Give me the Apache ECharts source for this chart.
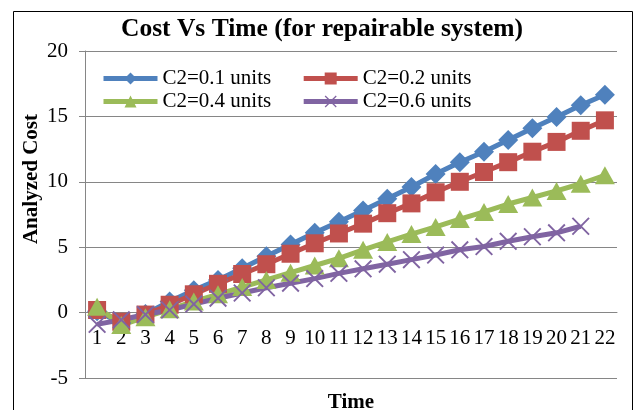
<!DOCTYPE html>
<html>
<head>
<meta charset="utf-8">
<script src="https://cdn.jsdelivr.net/npm/echarts@6/dist/echarts.min.js"></script>
<style>
html,body{margin:0;padding:0;background:#fff;}
#chart{width:634px;height:410px;}
</style>
</head>
<body>
<div id="chart"></div>
<script>
const categories = ['1','2','3','4','5','6','7','8','9','10','11','12','13','14','15','16','17','18','19','20','21','22'];
const seriesNames = ['C2=0.1 units','C2=0.2 units','C2=0.4 units','C2=0.6 units'];
const c2_01 = [0.1,-0.8,-0.1,0.85,1.7,2.5,3.4,4.3,5.2,6.1,6.95,7.8,8.7,9.6,10.6,11.5,12.3,13.2,14.1,14.95,15.85,16.65];
const c2_02 = [0.2,-0.7,-0.15,0.6,1.4,2.2,2.95,3.7,4.5,5.3,6.05,6.8,7.6,8.35,9.2,10.0,10.75,11.5,12.3,13.05,13.9,14.7];
const c2_04 = [0.45,-0.95,-0.35,0.25,0.85,1.4,1.95,2.5,3.05,3.6,4.15,4.8,5.4,6.0,6.55,7.15,7.7,8.3,8.8,9.3,9.85,10.5];
const c2_06 = [-0.9,-0.55,-0.15,0.2,0.65,1.1,1.5,1.9,2.25,2.6,3.0,3.35,3.7,4.05,4.4,4.8,5.05,5.45,5.8,6.1,6.6,null];
const yTicks = {min:-5, max:20, interval:5};

const FONT = 'Liberation Serif';
const colors = ['#4F81BD','#C0504D','#9BBB59','#8064A2'];
const crossPath = 'path://M0,1.5 L1.5,0 L10,8.5 L18.5,0 L20,1.5 L11.5,10 L20,18.5 L18.5,20 L10,11.5 L1.5,20 L0,18.5 L8.5,10 Z';

const GRID_TOP = 51, GRID_BOTTOM = 32, H = 410;
const plotH = H - GRID_TOP - GRID_BOTTOM;
// distance from plot bottom (value min) up to value 0, in pixels
const zeroOffset = plotH * (0 - yTicks.min) / (yTicks.max - yTicks.min);

const chart = echarts.init(document.getElementById('chart'), null, {renderer:'canvas'});
function mk(name, data, color, symbol, size){
  return {
    name: name, type:'line', data: data,
    symbol: symbol, symbolSize: size, showAllSymbol: true,
    lineStyle:{width:5, color:color},
    itemStyle:{color:color},
    emphasis:{disabled:true},
    animation:false
  };
}
const legendCommon = {
  itemWidth:54, itemHeight:15, itemGap:30, padding:0,
  lineStyle:{width:5},
  textStyle:{fontFamily:FONT, fontSize:21, color:'#000'}
};
chart.setOption({
  animation:false,
  backgroundColor:'#fff',
  title:{
    text:'Cost Vs Time (for repairable system)',
    left:121, top:16, padding:0,
    textStyle:{fontFamily:FONT, fontSize:25.5, fontWeight:'bold', color:'#000'}
  },
  legend:[
    Object.assign({}, legendCommon, {left:101, top:68, data:[seriesNames[0], seriesNames[1]]}),
    Object.assign({}, legendCommon, {left:101, top:91, data:[seriesNames[2], seriesNames[3]]})
  ],
  grid:{left:85, right:17, top:GRID_TOP, bottom:GRID_BOTTOM, containLabel:false, outerBoundsMode:'none'},
  xAxis:{
    type:'category', data:categories, boundaryGap:true,
    position:'bottom', offset:-zeroOffset,
    name:'Time', nameLocation:'middle', nameGap:79,
    nameTextStyle:{fontFamily:FONT, fontSize:21, fontWeight:'bold', color:'#000'},
    axisLine:{show:true, onZero:false, lineStyle:{color:'#868686', width:1}},
    axisTick:{show:false},
    axisLabel:{interval:0, margin:15, fontFamily:FONT, fontSize:21, color:'#000'},
    splitLine:{show:false}
  },
  yAxis:{
    type:'value', min:yTicks.min, max:yTicks.max, interval:yTicks.interval,
    axisLine:{show:true, onZero:false, lineStyle:{color:'#868686', width:1}},
    axisTick:{show:true, length:6, lineStyle:{color:'#868686'}},
    axisLabel:{margin:17, fontFamily:FONT, fontSize:21, color:'#000'},
    splitLine:{show:true, lineStyle:{color:'#868686', width:1}}
  },
  graphic:[
    {type:'rect', shape:{x:13.5, y:11.5, width:619, height:420}, style:{fill:null, stroke:'#000', lineWidth:1}, silent:true, z:-1},
    {type:'text', x:32, y:179, rotation:Math.PI/2,
     style:{text:'Analyzed Cost', fontFamily:FONT, fontSize:21, fontWeight:'bold', fill:'#000', textAlign:'center', textVerticalAlign:'middle'}}
  ],
  series:[
    mk(seriesNames[0], c2_01, colors[0], 'diamond', [20,20]),
    mk(seriesNames[1], c2_02, colors[1], 'rect', [18,18]),
    mk(seriesNames[2], c2_04, colors[2], 'triangle', [20,18]),
    mk(seriesNames[3], c2_06, colors[3], crossPath, [18,18])
  ]
});
</script>
</body>
</html>
